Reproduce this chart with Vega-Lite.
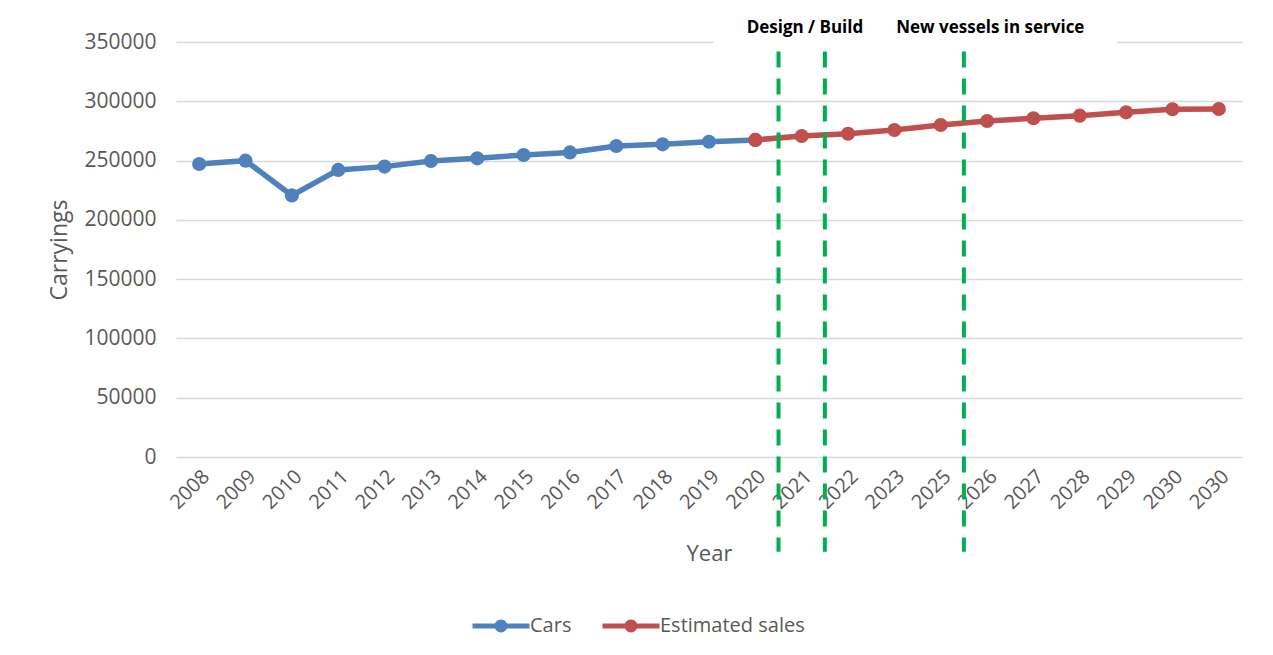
{
  "$schema": "https://vega.github.io/schema/vega-lite/v6.json",
  "width": 1066,
  "height": 415,
  "autosize": {"type": "none"},
  "padding": {"left": 176, "top": 42, "right": 31, "bottom": 198},
  "background": "white",
  "config": {
    "view": {"stroke": null},
    "font": "Open Sans"
  },
  "datasets": {
    "series": [
      {"cat": "2008", "series": "Cars", "value": 247100},
      {"cat": "2009", "series": "Cars", "value": 249900},
      {"cat": "2010", "series": "Cars", "value": 220600},
      {"cat": "2011", "series": "Cars", "value": 242100},
      {"cat": "2012", "series": "Cars", "value": 244900},
      {"cat": "2013", "series": "Cars", "value": 249600},
      {"cat": "2014", "series": "Cars", "value": 251900},
      {"cat": "2015", "series": "Cars", "value": 254700},
      {"cat": "2016", "series": "Cars", "value": 256900},
      {"cat": "2017", "series": "Cars", "value": 262300},
      {"cat": "2018", "series": "Cars", "value": 263700},
      {"cat": "2019", "series": "Cars", "value": 265900},
      {"cat": "2020", "series": "Cars", "value": 267400},
      {"cat": "2020", "series": "Estimated sales", "value": 267400},
      {"cat": "2021", "series": "Estimated sales", "value": 270700},
      {"cat": "2022", "series": "Estimated sales", "value": 272600},
      {"cat": "2023", "series": "Estimated sales", "value": 275800},
      {"cat": "2025", "series": "Estimated sales", "value": 280000},
      {"cat": "2026", "series": "Estimated sales", "value": 283400},
      {"cat": "2027", "series": "Estimated sales", "value": 285700},
      {"cat": "2028", "series": "Estimated sales", "value": 287900},
      {"cat": "2029", "series": "Estimated sales", "value": 290700},
      {"cat": "2030", "series": "Estimated sales", "value": 293300},
      {"cat": "2030 ", "series": "Estimated sales", "value": 293500}
    ],
    "markers": [
      {"cat": "2021"},
      {"cat": "2022"},
      {"cat": "2026"}
    ],
    "notes": [
      {"cat": "2021", "label": "Design / Build"},
      {"cat": "2026", "label": "New vessels in service"}
    ],
    "box": [
      {"start": "2019", "end": "2029"}
    ]
  },
  "encoding": {
    "x": {
      "field": "cat",
      "type": "ordinal",
      "scale": {
        "type": "band",
        "paddingInner": 0,
        "paddingOuter": 0,
        "domain": ["2008","2009","2010","2011","2012","2013","2014","2015","2016","2017","2018","2019","2020","2021","2022","2023","2025","2026","2027","2028","2029","2030","2030 "]
      },
      "axis": {
        "title": "Year",
        "labelAngle": -45,
        "labelExpr": "trim(datum.label)",
        "labelFontSize": 20,
        "labelColor": "#595959",
        "labelPadding": 9,
        "domain": false,
        "ticks": false,
        "grid": false,
        "titleFontSize": 22,
        "titleFontWeight": "normal",
        "titleColor": "#595959",
        "titlePadding": 31
      }
    }
  },
  "layer": [
    {
      "data": {"name": "series"},
      "mark": {"type": "line", "strokeWidth": 5.5},
      "encoding": {
        "y": {
          "field": "value",
          "type": "quantitative",
          "scale": {"domain": [0, 350000], "nice": false},
          "axis": {
            "title": "Carryings",
            "values": [0, 50000, 100000, 150000, 200000, 250000, 300000, 350000],
            "format": "d",
            "labelFontSize": 21,
            "labelColor": "#595959",
            "labelPadding": 20,
            "domain": false,
            "ticks": false,
            "gridColor": "#D9D9D9",
            "gridWidth": 1.5,
            "titleFontSize": 23,
            "titleFontWeight": "normal",
            "titleColor": "#595959",
            "titlePadding": 12
          }
        },
        "color": {
          "field": "series",
          "type": "nominal",
          "scale": {"domain": ["Cars", "Estimated sales"], "range": ["#4F81BD", "#C0504D"]},
          "legend": {
            "title": null,
            "orient": "none",
            "direction": "horizontal",
            "legendX": 306,
            "legendY": 565,
            "padding": 0,
            "symbolType": "M-1.5,-0.13L1.5,-0.13L1.5,0.13L-1.5,0.13Z M0.34,0 A0.34,0.34 0 1,1 -0.34,0 A0.34,0.34 0 1,1 0.34,0 Z",
            "symbolSize": 1444,
            "symbolStrokeWidth": 0,
            "symbolOpacity": 1,
            "labelOffset": 10,
            "labelFontSize": 20,
            "labelColor": "#595959",
            "columnPadding": 30,
            "encode": {
              "symbols": {
                "update": {
                  "fill": {"scale": "color", "field": "value"},
                  "stroke": {"value": "transparent"},
                  "opacity": {"value": 1}
                }
              }
            }
          }
        },
        "detail": {"field": "series"}
      }
    },
    {
      "data": {"name": "series"},
      "mark": {"type": "point", "filled": true, "size": 200, "opacity": 1},
      "encoding": {
        "y": {"field": "value", "type": "quantitative"},
        "color": {"field": "series", "type": "nominal"}
      }
    },
    {
      "data": {"name": "box"},
      "mark": {"type": "rect", "fill": "white", "stroke": null},
      "encoding": {
        "x": {"field": "start", "type": "ordinal", "bandPosition": 0.6},
        "x2": {"field": "end", "bandPosition": 0.3},
        "y": {"datum": 400000},
        "y2": {"datum": 346500}
      }
    },
    {
      "data": {"name": "markers"},
      "mark": {"type": "rule", "color": "#00B050", "strokeWidth": 4, "strokeDash": [16, 11]},
      "encoding": {
        "x": {"field": "cat", "type": "ordinal", "bandPosition": 0},
        "y": {"datum": 342000},
        "y2": {"datum": -80000}
      }
    },
    {
      "data": {"name": "notes"},
      "mark": {"type": "text", "fontSize": 17, "fontWeight": "bold", "color": "#000000", "baseline": "middle"},
      "encoding": {
        "x": {"field": "cat", "type": "ordinal", "bandPosition": 0.57},
        "y": {"datum": 362000},
        "text": {"field": "label"}
      }
    }
  ]
}
